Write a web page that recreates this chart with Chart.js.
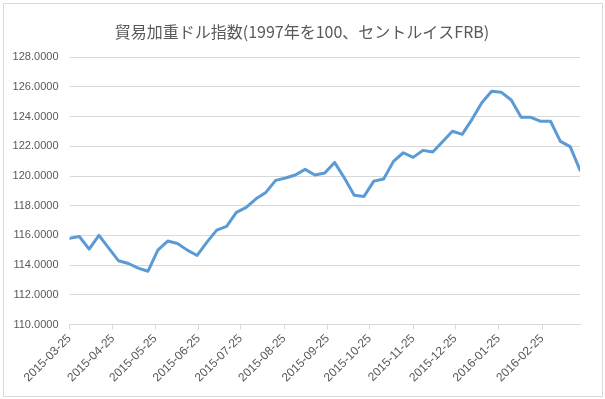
<!DOCTYPE html>
<html>
<head>
<meta charset="utf-8">
<script src="https://cdn.jsdelivr.net/npm/chart.js@4"></script>
<style>
html, body { margin: 0; padding: 0; background: #fff; }
#wrap { width: 605px; height: 399px; }
</style>
</head>
<body>
<div id="wrap"><canvas id="chart"></canvas></div>
<script>
// weekly data (week ending Wednesday)
const dates = [
    '2015-03-25', '2015-04-01', '2015-04-08', '2015-04-15', '2015-04-22', '2015-04-29',
    '2015-05-06', '2015-05-13', '2015-05-20', '2015-05-27', '2015-06-03', '2015-06-10',
    '2015-06-17', '2015-06-24', '2015-07-01', '2015-07-08', '2015-07-15', '2015-07-22',
    '2015-07-29', '2015-08-05', '2015-08-12', '2015-08-19', '2015-08-26', '2015-09-02',
    '2015-09-09', '2015-09-16', '2015-09-23', '2015-09-30', '2015-10-07', '2015-10-14',
    '2015-10-21', '2015-10-28', '2015-11-04', '2015-11-11', '2015-11-18', '2015-11-25',
    '2015-12-02', '2015-12-09', '2015-12-16', '2015-12-23', '2015-12-30', '2016-01-06',
    '2016-01-13', '2016-01-20', '2016-01-27', '2016-02-03', '2016-02-10', '2016-02-17',
    '2016-02-24', '2016-03-02', '2016-03-09', '2016-03-16', '2016-03-23'
];

const values = [
    115.80, 115.93, 115.08, 116.00, 115.15, 114.29,
    114.11, 113.80, 113.59, 115.01, 115.62, 115.46,
    115.01, 114.65, 115.55, 116.36, 116.61, 117.55,
    117.89, 118.47, 118.90, 119.71, 119.87, 120.07,
    120.45, 120.07, 120.21, 120.92, 119.87, 118.70,
    118.63, 119.66, 119.80, 120.99, 121.57, 121.26,
    121.73, 121.62, 122.31, 123.02, 122.81, 123.82,
    124.94, 125.71, 125.64, 125.12, 123.96, 123.96,
    123.69, 123.69, 122.34, 121.98, 120.40
];

const tickDates = [
    '2015-03-25', '2015-04-25', '2015-05-25', '2015-06-25', '2015-07-25', '2015-08-25',
    '2015-09-25', '2015-10-25', '2015-11-25', '2015-12-25', '2016-01-25', '2016-02-25'
];

const titleText = '貿易加重ドル指数(1997年を100、セントルイスFRB)';

const DAY = 86400000;
const start = Date.parse(dates[0]);
const toDay = s => (Date.parse(s) - start) / DAY;

// chart border and title centred on the whole chart, like Excel does
const frame = {
    id: 'frame',
    beforeDraw(chart) {
        const ctx = chart.ctx;
        ctx.save();
        ctx.strokeStyle = '#d9d9d9';
        ctx.lineWidth = 1;
        ctx.strokeRect(3.5, 3.5, 599, 393);
        ctx.fillStyle = '#595959';
        ctx.font = '16px "Noto Sans CJK JP", sans-serif';
        ctx.textAlign = 'center';
        ctx.textBaseline = 'middle';
        ctx.fillText(titleText, 302, 32);
        ctx.restore();
    }
};

const config = {
    type: 'line',
    data: {
        datasets: [
            {
                data: dates.map((d, i) => ({ x: toDay(d), y: values[i] })),
                borderColor: '#5b9bd5',
                borderWidth: 3,
                pointRadius: 0,
                tension: 0,
                fill: false,
                borderJoinStyle: 'round',
                borderCapStyle: 'round'
            }
        ]
    },
    options: {
        responsive: true,
        maintainAspectRatio: false,
        animation: false,
        layout: {
            padding: { left: 0, right: 25, top: 57.3, bottom: 0 }
        },
        plugins: {
            legend: { display: false },
            tooltip: { enabled: false },
            title: { display: false }
        },
        scales: {
            x: {
                type: 'linear',
                min: 0,
                max: toDay(dates[dates.length - 1]),
                afterBuildTicks: s => {
                    s.ticks = tickDates.map(d => ({ value: toDay(d) }));
                },
                afterFit: s => { s.height = 74.5; },
                ticks: {
                    autoSkip: false,
                    minRotation: 45,
                    maxRotation: 45,
                    padding: 2,
                    color: '#595959',
                    font: { family: '"Liberation Sans", Arial, sans-serif', size: 12 },
                    callback: (v, i) => tickDates[i]
                },
                grid: {
                    drawOnChartArea: false,
                    drawTicks: true,
                    tickLength: 5,
                    color: '#d9d9d9'
                },
                border: { display: true, color: '#d9d9d9' }
            },
            y: {
                min: 110,
                max: 128,
                afterFit: s => { s.width = 69.5; },
                ticks: {
                    stepSize: 2,
                    padding: 11,
                    color: '#595959',
                    font: { family: '"Liberation Sans", Arial, sans-serif', size: 11 },
                    callback: v => v.toFixed(4)
                },
                grid: {
                    color: '#d9d9d9',
                    drawTicks: false
                },
                border: { display: false }
            }
        }
    },
    plugins: [frame]
};

new Chart(document.getElementById('chart'), config);
</script>
</body>
</html>
